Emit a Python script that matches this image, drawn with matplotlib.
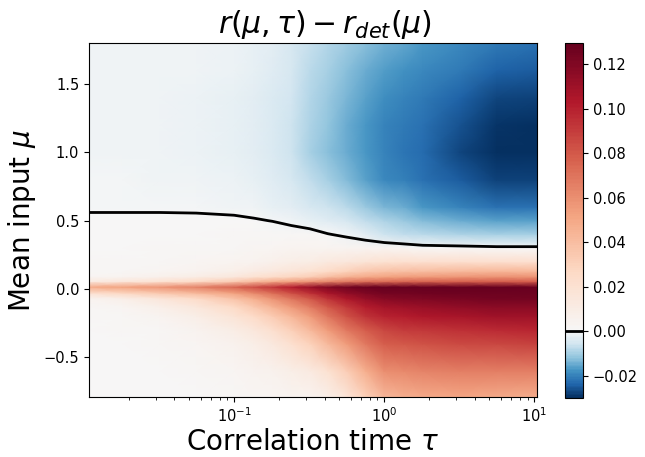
import numpy as np
import matplotlib
matplotlib.use("Agg")
import matplotlib.pyplot as plt
from matplotlib.colors import ListedColormap, Normalize

# correlation times (columns) and mean inputs (rows)
tau = [0.0108, 0.018, 0.032, 0.056, 0.1, 0.135, 0.18, 0.24, 0.32, 0.42, 0.56,
       0.75, 1.0, 1.35, 1.8, 3.2, 5.6, 10.4]
mu = [-0.8, -0.6, -0.4, -0.3, -0.2, -0.13, -0.07, -0.03, 0.015, 0.055, 0.09,
      0.13, 0.2, 0.3, 0.4, 0.5, 0.6, 0.8, 1.0, 1.2, 1.4, 1.6, 1.8]

# r(mu, tau) - r_det(mu), one list per mu row
d_m080 = [0.001, 0.001, 0.001, 0.001, 0.002, 0.0025, 0.003, 0.0035, 0.004, 0.008, 0.016, 0.03, 0.042, 0.046, 0.048, 0.05, 0.048, 0.047]
d_m060 = [0.001, 0.001, 0.001, 0.0015, 0.003, 0.0045, 0.006, 0.009, 0.012, 0.02, 0.032, 0.047, 0.06, 0.062, 0.064, 0.066, 0.066, 0.066]
d_m040 = [0.001, 0.001, 0.0015, 0.003, 0.006, 0.009, 0.014, 0.021, 0.03, 0.042, 0.055, 0.068, 0.078, 0.08, 0.082, 0.085, 0.087, 0.088]
d_m030 = [0.001, 0.0012, 0.002, 0.005, 0.01, 0.015, 0.022, 0.031, 0.042, 0.055, 0.068, 0.079, 0.087, 0.09, 0.092, 0.095, 0.097, 0.098]
d_m020 = [0.0012, 0.002, 0.004, 0.009, 0.018, 0.025, 0.033, 0.043, 0.055, 0.069, 0.082, 0.093, 0.1, 0.102, 0.104, 0.107, 0.109, 0.11]
d_m013 = [0.0015, 0.003, 0.008, 0.015, 0.026, 0.035, 0.045, 0.056, 0.067, 0.08, 0.092, 0.101, 0.108, 0.11, 0.112, 0.114, 0.116, 0.116]
d_m007 = [0.004, 0.008, 0.016, 0.025, 0.038, 0.047, 0.058, 0.069, 0.08, 0.093, 0.105, 0.113, 0.118, 0.12, 0.121, 0.123, 0.124, 0.124]
d_m003 = [0.022, 0.028, 0.035, 0.042, 0.053, 0.062, 0.072, 0.083, 0.095, 0.106, 0.115, 0.121, 0.124, 0.125, 0.126, 0.127, 0.127, 0.127]
d_p0015 = [0.048, 0.052, 0.057, 0.064, 0.075, 0.083, 0.092, 0.102, 0.112, 0.119, 0.125, 0.128, 0.13, 0.13, 0.13, 0.13, 0.129, 0.128]
d_p0055 = [0.012, 0.016, 0.02, 0.026, 0.034, 0.041, 0.048, 0.053, 0.058, 0.063, 0.068, 0.072, 0.074, 0.075, 0.076, 0.077, 0.078, 0.078]
d_p009 = [0.003, 0.004, 0.007, 0.01, 0.015, 0.02, 0.024, 0.028, 0.032, 0.039, 0.045, 0.049, 0.052, 0.054, 0.055, 0.057, 0.058, 0.058]
d_p013 = [0.002, 0.002, 0.003, 0.005, 0.008, 0.011, 0.014, 0.017, 0.02, 0.025, 0.03, 0.035, 0.038, 0.039, 0.04, 0.042, 0.043, 0.043]
d_p020 = [0.0015, 0.0015, 0.002, 0.003, 0.004, 0.0055, 0.007, 0.0085, 0.01, 0.0125, 0.015, 0.018, 0.02, 0.0205, 0.021, 0.022, 0.022, 0.022]
d_p030 = [0.001, 0.001, 0.0012, 0.0015, 0.002, 0.0025, 0.003, 0.0035, 0.004, 0.004, 0.004, 0.004, 0.004, 0.003, 0.002, 0.0016, 0.0011, 0.0011]
d_p040 = [0.0006, 0.0006, 0.0007, 0.0008, 0.0012, 0.0016, 0.002, 0.0022, 0.0017, 0.0002, -0.001, -0.003, -0.006, -0.007, -0.008, -0.009, -0.010, -0.010]
d_p050 = [0.0003, 0.0003, 0.00045, 0.0005, 0.00053, 0.0003, -0.0001, -0.0012, -0.0025, -0.0038, -0.005, -0.007, -0.009, -0.011, -0.013, -0.015, -0.016, -0.016]
d_p060 = [-0.0002, -0.0002, -0.0003, -0.0004, -0.0008, -0.0013, -0.002, -0.003, -0.0045, -0.006, -0.008, -0.011, -0.0135, -0.015, -0.017, -0.020, -0.022, -0.022]
d_p080 = [-0.0006, -0.0007, -0.0009, -0.0012, -0.0018, -0.0025, -0.0035, -0.005, -0.0075, -0.010, -0.013, -0.016, -0.019, -0.0205, -0.022, -0.025, -0.028, -0.028]
d_p100 = [-0.0008, -0.0009, -0.0011, -0.0015, -0.002, -0.0028, -0.004, -0.006, -0.0095, -0.012, -0.015, -0.0175, -0.0200, -0.0215, -0.023, -0.027, -0.0295, -0.030]
d_p120 = [-0.0008, -0.0009, -0.0011, -0.0015, -0.002, -0.0028, -0.004, -0.006, -0.0093, -0.0118, -0.0145, -0.017, -0.0195, -0.021, -0.022, -0.026, -0.029, -0.0295]
d_p140 = [-0.0008, -0.0009, -0.001, -0.0014, -0.002, -0.0027, -0.004, -0.0057, -0.0088, -0.011, -0.0135, -0.016, -0.0185, -0.020, -0.021, -0.024, -0.027, -0.028]
d_p160 = [-0.0008, -0.0009, -0.001, -0.0013, -0.0017, -0.0025, -0.0035, -0.005, -0.0078, -0.0098, -0.012, -0.0145, -0.0165, -0.018, -0.019, -0.021, -0.024, -0.025]
d_p180 = [-0.0008, -0.0008, -0.001, -0.0012, -0.0015, -0.0022, -0.003, -0.0045, -0.0068, -0.0085, -0.0105, -0.0125, -0.014, -0.0155, -0.017, -0.019, -0.021, -0.022]

cbar_ticks = [-0.02, 0.00, 0.02, 0.04, 0.06, 0.08, 0.10, 0.12]
y_ticks = [-0.5, 0.0, 0.5, 1.0, 1.5]

Z = np.array([d_m080, d_m060, d_m040, d_m030, d_m020, d_m013, d_m007, d_m003,
              d_p0015, d_p0055, d_p009, d_p013, d_p020, d_p030, d_p040, d_p050,
              d_p060, d_p080, d_p100, d_p120, d_p140, d_p160, d_p180])

vmin, vmax = -0.030, 0.1295
base = plt.get_cmap("RdBu_r")
n_neg = int(round(256 * (-vmin) / (vmax - vmin)))
n_pos = 256 - n_neg
cols = np.vstack([base(np.linspace(0.0, 0.5, n_neg, endpoint=False)),
                  base(np.linspace(0.5, 1.0, n_pos))])
cmap = ListedColormap(cols)
norm = Normalize(vmin=vmin, vmax=vmax)

fig = plt.figure(figsize=(6.45, 4.57), dpi=100)
ax = fig.add_axes([89 / 645, 1 - 397 / 457, 448 / 645, 354 / 457])
cax = fig.add_axes([565 / 645, 1 - 398 / 457, 18 / 645, 355 / 457])

T, M = np.meshgrid(tau, mu)
mesh = ax.pcolormesh(T, M, Z, cmap=cmap, norm=norm, shading="gouraud", rasterized=True)
cs = ax.contour(T, M, Z, levels=[0.0], colors="k", linewidths=2)
ax.set_xscale("log")
ax.set_xlim(tau[0], tau[-1])
ax.set_ylim(-0.79, 1.8)
ax.set_yticks(y_ticks)
ax.tick_params(labelsize=10.5)
ax.set_xlabel(r"Correlation time $\tau$", fontsize=20, labelpad=2)
ax.set_ylabel(r"Mean input $\mu$", fontsize=20, labelpad=4)
ax.set_title(r"$r(\mu,\tau) - r_{det}(\mu)$", fontsize=21.5, pad=7, x=0.526)

cb = fig.colorbar(mesh, cax=cax, ticks=cbar_ticks)
cb.ax.tick_params(labelsize=10.5)
cb.add_lines(cs)

fig.savefig("out.png", dpi=100)
